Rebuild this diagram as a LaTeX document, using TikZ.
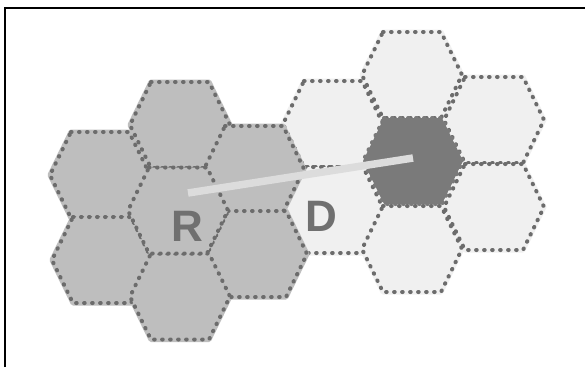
\documentclass[tikz,border=0pt]{standalone}
\usepackage{fontspec}
\setmainfont{Liberation Sans}
\definecolor{grayhex}{HTML}{BEBEBE}
\definecolor{lighthex}{HTML}{F0F0F0}
\definecolor{darkhex}{HTML}{7A7A7A}
\definecolor{dotcol}{HTML}{6C6C6C}
\definecolor{lettercol}{HTML}{707070}
\definecolor{linkcol}{HTML}{DCDCDC}
\tikzset{
  hexcell/.style={draw=dotcol, line width=4pt, line cap=round, line join=round,
    dash pattern=on 0.6pt off 7.4pt},
  grayc/.style={hexcell, fill=grayhex},
  lightc/.style={hexcell, fill=lighthex},
  darkc/.style={hexcell, fill=darkhex, draw=darkhex},
  grayu/.style={fill=grayhex, draw=grayhex, line width=5pt, line join=round},
  lightu/.style={fill=lighthex, draw=lighthex, line width=5pt, line join=round},
  letter/.style={font=\bfseries\fontsize{44}{44}\selectfont, text=lettercol, inner sep=0pt},
  link/.style={draw=linkcol, line width=7.5pt}
}
% hexagon: half top edge 29, slant 21, apothem 43
\newcommand\hexcellat[2]{%
  \path[#1] (#2) +(-29,-43) -- +(29,-43) -- +(50,0) -- +(29,43) -- +(-29,43) -- +(-50,0) -- cycle;}
\begin{document}
\begin{tikzpicture}[x=1pt,y=-1pt]
\useasboundingbox (0,0) rectangle (585,367);
\fill[white] (0,0) rectangle (585,367);
\draw[line width=1.6pt] (5,367) -- (5,8) -- (585,8);
% centres
\coordinate (lt)  at (412,75);
\coordinate (lul) at (333,124);
\coordinate (lll) at (334,210);
\coordinate (lur) at (494,120);
\coordinate (llr) at (494,207);
\coordinate (lb)  at (412,249);
\coordinate (dk)  at (413,161);
\coordinate (gt)  at (180,125);
\coordinate (gul) at (100,175);
\coordinate (gll) at (102,260);
\coordinate (gur) at (254,169);
\coordinate (glr) at (257,254);
\coordinate (gb)  at (180,296.5);
\coordinate (gc)  at (178,210.5);
% right (light) cluster
\foreach \c in {lt,lul,lll,lur,llr,lb}{\hexcellat{lightu}{\c}}
\hexcellat{lightc}{lt}
\hexcellat{lightc}{lul}
\hexcellat{lightc}{lll}
\hexcellat{lightc}{lur}
\hexcellat{lightc}{llr}
\hexcellat{lightc}{lb}
\hexcellat{darkc}{dk}
% left (gray) cluster
\foreach \c in {gt,gul,gll,gur,glr,gb,gc}{\hexcellat{grayu}{\c}}
\hexcellat{grayc}{gt}
\hexcellat{grayc}{gul}
\hexcellat{grayc}{gll}
\hexcellat{grayc}{gur}
\hexcellat{grayc}{glr}
\hexcellat{grayc}{gb}
\hexcellat{grayc}{gc}
% letters
\node[letter] (R) at (187,226) {R};
\node[letter] (D) at (321,216) {D};
% link
\coordinate (ls) at (188,193);
\coordinate (le) at (413,158);
\draw[link] (ls) -- (le);
\end{tikzpicture}
\end{document}
